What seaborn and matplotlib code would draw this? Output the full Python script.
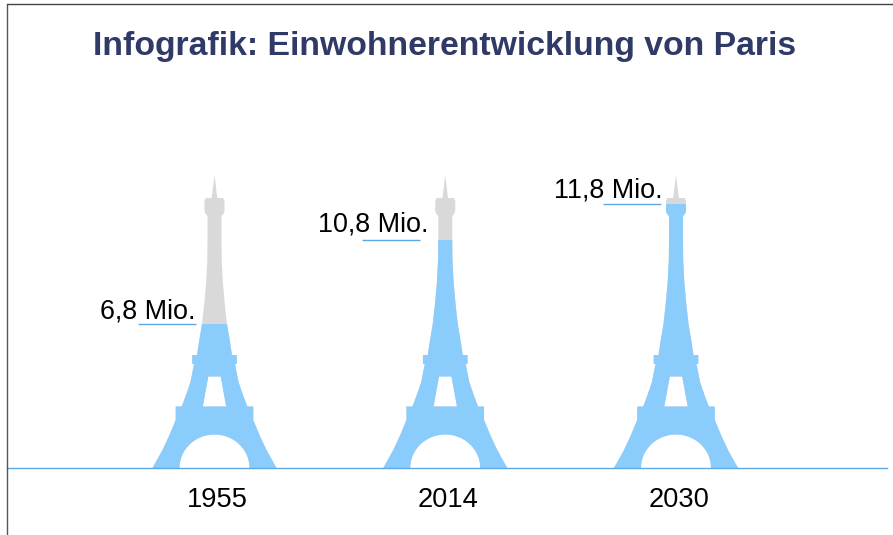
import numpy as np
import pandas as pd
import matplotlib
matplotlib.use("Agg")
import matplotlib.pyplot as plt
from matplotlib.lines import Line2D
from matplotlib.path import Path
from matplotlib.transforms import ScaledTranslation
import seaborn as sns

# ---- data
years = ["1955", "2014", "2030"]
labels = ["6,8 Mio.", "10,8 Mio.", "11,8 Mio."]
fill_share = [49.0, 77.8, 90.0]   # filled part of the tower, % of tower height
full_share = [100.0, 100.0, 100.0]

title = "Infografik: Einwohnerentwicklung von Paris"
BLUE, GREY, LINE, NAVY = "#8accfb", "#d9d9d9", "#5fa8e2", "#2f3a66"

# ---- layout (pixels of the 893x535 canvas)
W, H = 893, 535
AX_L, AX_R, BASE_Y, TOP_Y = 7, 887, 468, 175
C0, STEP = 214.5, 230.75
rule_dx = [(-76.5, -18.5), (-83, -25), (-73, -15)]
text_right_dx = [-18.5, -17, -13.5]
text_raise = [6, 9, 7]
PX_Y = 100 / (BASE_Y - TOP_Y)

# half-silhouette of the tower: (half width, height above base), pixels
half_outline = [(62, 0), (52, 18), (45, 33), (38.8, 48), (38.8, 61.5), (32.8, 61.5),
                (28.5, 73), (24, 86), (20.5, 104), (22.3, 104), (22.3, 113), (17.5, 113),
                (15.2, 128), (12.5, 144), (10.2, 165), (8.4, 185), (7.2, 208),
                (7, 230), (7, 252), (9, 254), (10, 257), (10, 267), (8.5, 270),
                (2.8, 270), (0, 293)]
gate_hole = [(11.7, 61.5), (6.2, 91.5)]
ARCH_HALF, ARCH_TOP = 35, 33.5


def tower_path(pos):
    def to_data(dx, h):
        return (pos + dx / STEP, h * PX_Y)
    right = [to_data(w, h) for w, h in half_outline]
    left = [to_data(-w, h) for w, h in reversed(half_outline[:-1])]
    outer = right + left
    verts = outer + [outer[0]]
    codes = [Path.MOVETO] + [Path.LINETO] * (len(outer) - 1) + [Path.CLOSEPOLY]
    # the outer ring runs counter-clockwise on screen; holes run clockwise
    t = np.linspace(np.pi, 0, 40)
    arch = [to_data(ARCH_HALF * np.cos(a), ARCH_TOP * np.sin(a)) for a in t]
    verts += arch + [arch[0]]
    codes += [Path.MOVETO] + [Path.LINETO] * (len(arch) - 1) + [Path.CLOSEPOLY]
    (wb, hb), (wt, ht) = gate_hole
    gate = [to_data(-wb, hb), to_data(-wt, ht), to_data(wt, ht), to_data(wb, hb)]
    verts += gate + [gate[0]]
    codes += [Path.MOVETO] + [Path.LINETO] * 3 + [Path.CLOSEPOLY]
    return Path(verts, codes)


sns.set_theme(style="white")
plt.rcParams["font.family"] = ["Liberation Sans", "DejaVu Sans"]

fig = plt.figure(figsize=(W / 100, H / 100), dpi=100)
ax = fig.add_axes([AX_L / W, (H - BASE_Y) / H, (AX_R - AX_L) / W, (BASE_Y - TOP_Y) / H])
ax.patch.set_alpha(0)

df = pd.DataFrame({"year": years, "full": full_share, "fill": fill_share})
sns.barplot(data=df, x="year", y="full", color=GREY, saturation=1, width=0.6, linewidth=0, ax=ax)
sns.barplot(data=df, x="year", y="fill", color=BLUE, saturation=1, width=0.6, linewidth=0, ax=ax)

ax.set_xlim((AX_L - C0) / STEP, (AX_R - C0) / STEP)
ax.set_ylim(0, 100)
ax.set_xlabel("")
ax.set_ylabel("")
ax.set_yticks([])

for bar in ax.patches:
    centre = bar.get_x() + bar.get_width() / 2
    bar.set_clip_path(tower_path(centre), ax.transData)

for s in ("top", "left", "right"):
    ax.spines[s].set_visible(False)
ax.spines["bottom"].set_color(LINE)
ax.spines["bottom"].set_linewidth(1.0)

ax.tick_params(axis="x", length=0, pad=13.5, labelsize=19.6, labelcolor="black")
shift = ScaledTranslation(3 / 100, 0, fig.dpi_scale_trans)
for lab in ax.get_xticklabels():
    lab.set_transform(lab.get_transform() + shift)

for i, (lab, share) in enumerate(zip(labels, fill_share)):
    x0, x1 = rule_dx[i]
    ax.plot([i + x0 / STEP, i + x1 / STEP], [share, share], color=LINE, lw=1.0, solid_capstyle="butt")
    ax.text(i + text_right_dx[i] / STEP, share + text_raise[i] * PX_Y, lab,
            ha="right", va="baseline", fontsize=19.4, color="black")

fig.text(444.5 / W, 1 - 47 / H, title, ha="center", va="center",
         fontsize=24.3, fontweight="bold", color=NAVY)

# slide frame: top and left edges only
fig.add_artist(Line2D([6.5 / W, 6.5 / W], [0, 1 - 4 / H], color="#555555", lw=1.0))
fig.add_artist(Line2D([6.5 / W, 1], [1 - 4 / H, 1 - 4 / H], color="#444444", lw=1.0))

fig.savefig("out.png", dpi=100)
